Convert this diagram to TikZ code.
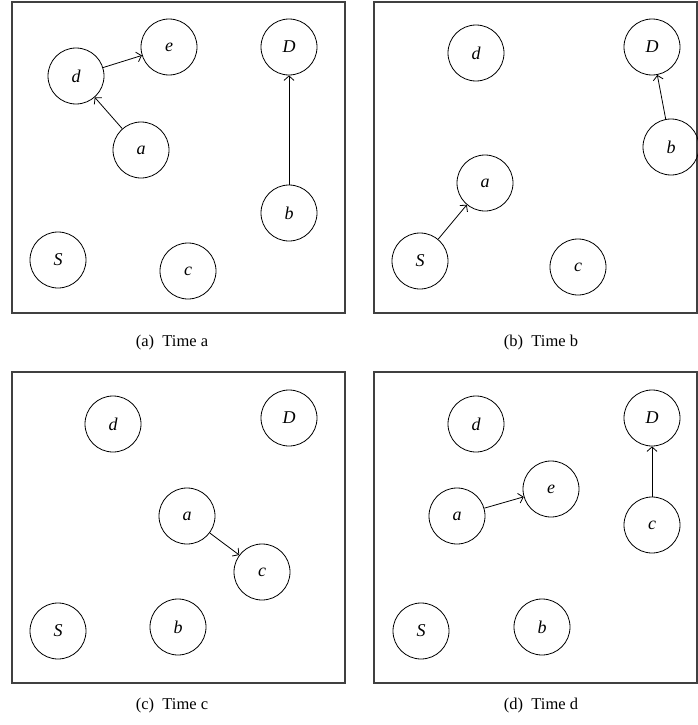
\documentclass[tikz,border=0pt]{standalone}
\usepackage{fontspec}
\setmainfont{Liberation Serif}
\usetikzlibrary{arrows.meta}
\begin{document}
\begin{tikzpicture}[x=1pt,y=-1pt,
  nd/.style={circle,draw=black,line width=0.8pt,minimum size=56pt,inner sep=0pt,font=\fontsize{18}{18}\selectfont\itshape},
  arr/.style={line width=0.8pt,-{Straight Barb[length=4.5pt,width=10pt]}},
  frame/.style={draw=black!75,line width=1.3pt},
  captext/.style={font=\fontsize{16.5}{17}\selectfont}]
\useasboundingbox (0,0) rectangle (698,725);

% Panel (a)
\draw[frame] (12,2) rectangle (345,313);
\node[nd] (da) at (76,76) {d};
\node[nd] (ea) at (169,47) {e};
\node[nd] (Da) at (289,47) {D};
\node[nd] (aa) at (141,150) {a};
\node[nd] (ba) at (289,213) {b};
\node[nd] (Sa) at (58,260) {S};
\node[nd] (ca) at (188,271) {c};
\draw[arr] (da) -- (ea);
\draw[arr] (aa) -- (da);
\draw[arr] (ba) -- (Da);
\node[captext] (ta) at (172,343) {(a)\ \ Time a};

% Panel (b)
\draw[frame] (374,2) rectangle (697,313);
\node[nd] (db) at (476,53) {d};
\node[nd] (Db) at (652,47) {D};
\node[nd] (bb) at (671,147) {b};
\node[nd] (ab) at (485,183) {a};
\node[nd] (Sb) at (420,261) {S};
\node[nd] (cb) at (578,267) {c};
\draw[arr] (bb) -- (Db);
\draw[arr] (Sb) -- (ab);
\node[captext] (tb) at (541,343) {(b)\ \ Time b};

% Panel (c)
\draw[frame] (12,372) rectangle (345,683);
\node[nd] (dc) at (113,424) {d};
\node[nd] (Dc) at (289,418) {D};
\node[nd] (ac) at (187,516) {a};
\node[nd] (cc) at (262,572) {c};
\node[nd] (Sc) at (58,631) {S};
\node[nd] (bc) at (178,627) {b};
\draw[arr] (ac) -- (cc);
\node[captext] (tc) at (172,706) {(c)\ \ Time c};

% Panel (d)
\draw[frame] (374,372) rectangle (697,683);
\node[nd] (dd) at (476,424) {d};
\node[nd] (Dd) at (652,418) {D};
\node[nd] (ed) at (551,489) {e};
\node[nd] (ad) at (457,516) {a};
\node[nd] (cd) at (652,525) {c};
\node[nd] (Sd) at (421,631) {S};
\node[nd] (bd) at (542,627) {b};
\draw[arr] (ad) -- (ed);
\draw[arr] (cd) -- (Dd);
\node[captext] (td) at (541,706) {(d)\ \ Time d};
\end{tikzpicture}
\end{document}
